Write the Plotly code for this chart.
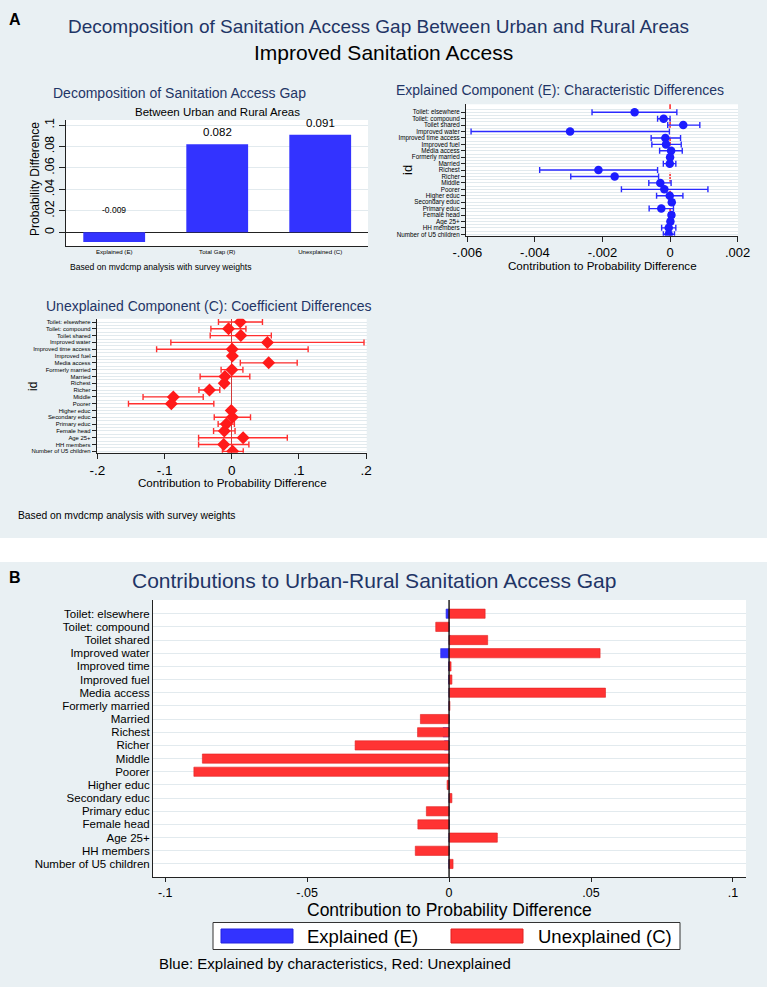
import plotly.graph_objects as go

# ---------------- data ----------------
labels_full = ["Toilet: elsewhere", "Toilet: compound", "Toilet shared", "Improved water",
               "Improved time access", "Improved fuel", "Media access", "Formerly married",
               "Married", "Richest", "Richer", "Middle", "Poorer", "Higher educ",
               "Secondary educ", "Primary educ", "Female head", "Age 25+", "HH members",
               "Number of U5 children"]
labels_b = ["Toilet: elsewhere", "Toilet: compound", "Toilet shared", "Improved water",
            "Improved time", "Improved fuel", "Media access", "Formerly married",
            "Married", "Richest", "Richer", "Middle", "Poorer", "Higher educ",
            "Secondary educ", "Primary educ", "Female head", "Age 25+", "HH members",
            "Number of U5 children"]

bar_cats = ["Explained (E)", "Total Gap (R)", "Unexplained (C)"]
bar_vals = [-0.009, 0.082, 0.091]

exp_est = [-0.00105, -0.00019, 0.00039, -0.00296, -0.00014, -0.00012, 0.00003, 0.0,
           -0.00001, -0.00212, -0.00164, -0.00029, -0.00017, -0.00001, 0.00005,
           -0.00026, 0.00004, 0.00001, -0.00004, -0.00004]
exp_lo = [-0.00231, -0.00037, -0.00007, -0.00589, -0.00056, -0.00054, -0.00031, -0.00007,
          -0.00020, -0.00386, -0.00294, -0.00063, -0.00144, -0.00040, -0.00002,
          -0.00062, -0.00004, -0.00006, -0.00025, -0.00020]
exp_hi = [0.00020, 0.00000, 0.00088, -0.00002, 0.00031, 0.00033, 0.00036, 0.00007,
          0.00017, -0.00037, -0.00034, 0.00003, 0.00112, 0.00038, 0.00012,
          0.00010, 0.00012, 0.00008, 0.00017, 0.00013]

unexp_est = [0.0127, -0.0047, 0.0136, 0.0532, 0.0007, 0.0010, 0.0551, 0.0003, -0.0101,
             -0.0111, -0.0331, -0.0869, -0.0899, -0.0007, 0.0010, -0.0080, -0.0110,
             0.0170, -0.0119, 0.0014]
unexp_lo = [-0.0197, -0.0310, -0.0320, -0.0906, -0.1118, -0.0020, 0.0128, -0.0158, -0.0470,
            -0.0160, -0.0488, -0.1320, -0.1537, -0.0038, -0.0260, -0.0202, -0.0270,
            -0.0493, -0.0493, -0.0138]
unexp_hi = [0.0458, 0.0212, 0.0590, 0.1970, 0.1138, 0.0040, 0.0975, 0.0167, 0.0270,
            -0.0064, -0.0177, -0.0424, -0.0266, 0.0022, 0.0280, 0.0040, 0.0050,
            0.0828, 0.0256, 0.0172]

bar_ticks = [0, 0.02, 0.04, 0.06, 0.08, 0.1]
bar_ticktext = ["0", ".02", ".04", ".06", ".08", ".1"]
exp_ticks = [-0.006, -0.004, -0.002, 0, 0.002]
exp_ticktext = ["-.006", "-.004", "-.002", "0", ".002"]
unexp_ticks = [-0.2, -0.1, 0, 0.1, 0.2]
unexp_ticktext = ["-.2", "-.1", "0", ".1", ".2"]
b_ticks = [-0.1, -0.05, 0, 0.05, 0.1]
b_ticktext = ["-.1", "-.05", "0", ".05", ".1"]

# ---------------- styling ----------------
W, H = 767, 987
BG = "#e9f0f3"
NAVY = "#1f3566"
GRID = "#e2eaee"
BLUE = "#3333ff"
RED = "#ff3333"
AX = "#222222"
FONT = "Liberation Sans, Arial, sans-serif"


def px(x):
    return x / W


def py(y):
    return 1 - y / H


idx = list(range(len(labels_full)))

fig = go.Figure()

# Panel A1: bar chart
fig.add_trace(go.Bar(x=bar_cats, y=bar_vals, marker=dict(color=BLUE, line=dict(width=0)),
                     width=0.6, xaxis="x", yaxis="y", showlegend=False))

# Panel A2: explained forest
fig.add_trace(go.Scatter(
    x=exp_est, y=idx, mode="markers", xaxis="x2", yaxis="y2", showlegend=False,
    marker=dict(symbol="circle", size=8.5, color="#1c1cff"),
    error_x=dict(type="data", symmetric=False,
                 array=[h - e for h, e in zip(exp_hi, exp_est)],
                 arrayminus=[e - l for e, l in zip(exp_est, exp_lo)],
                 color="#2a2aff", thickness=1.4, width=3)))

# Panel A3: unexplained forest
fig.add_trace(go.Scatter(
    x=unexp_est, y=idx, mode="markers", xaxis="x3", yaxis="y3", showlegend=False,
    marker=dict(symbol="diamond", size=10, color="#ff1a1a"),
    error_x=dict(type="data", symmetric=False,
                 array=[h - e for h, e in zip(unexp_hi, unexp_est)],
                 arrayminus=[e - l for e, l in zip(unexp_est, unexp_lo)],
                 color="#ff3030", thickness=1.4, width=3)))

# Panel B: contributions
fig.add_trace(go.Bar(x=exp_est, y=idx, orientation="h", width=0.7, xaxis="x4", yaxis="y4",
                     marker=dict(color=BLUE, line=dict(color="#2222e0", width=0.6)),
                     name="Explained (E)", showlegend=False))
fig.add_trace(go.Bar(x=unexp_est, y=idx, orientation="h", width=0.7, xaxis="x4", yaxis="y4",
                     marker=dict(color=RED, line=dict(color="#e02020", width=0.6)),
                     name="Unexplained (C)", showlegend=False))


def xax(domain, anchor, rng, tickvals, ticktext, size, ticklen=5):
    return dict(domain=domain, anchor=anchor, range=rng, tickvals=tickvals,
                ticktext=ticktext, ticks="outside", ticklen=ticklen, tickcolor=AX,
                tickfont=dict(size=size, color="black"), showgrid=False,
                showline=True, linecolor=AX, linewidth=1, zeroline=False,
                automargin=False)


def yax_rows(domain, anchor, rng, labels, size, ticklen, minor):
    d = dict(domain=domain, anchor=anchor, range=rng, tickvals=idx, ticktext=labels,
             ticks=("outside" if ticklen else ""), ticklen=ticklen, tickcolor=AX,
             tickfont=dict(size=size, color="black"), showgrid=True, gridcolor=GRID,
             showline=True, linecolor=AX, linewidth=1, zeroline=False, automargin=False)
    if minor:
        d["minor"] = dict(tickvals=[i + 0.5 for i in range(-1, 19)], showgrid=True,
                          gridcolor=GRID, ticks="")
    return d


xaxis3 = xax([px(96.7), px(366.7)], "y3", [-0.201, 0.201], unexp_ticks, unexp_ticktext, 13.5)
xaxis3.update(zeroline=True, zerolinecolor="#d03a3a", zerolinewidth=1.4)

fig.update_layout(
    template="none",
    width=W, height=H, autosize=False,
    margin=dict(l=0, r=0, t=0, b=0, pad=0, autoexpand=False),
    paper_bgcolor=BG, plot_bgcolor="white",
    font=dict(family=FONT, color="black"),
    barmode="overlay", showlegend=False,
    xaxis=dict(domain=[px(66), px(368)], anchor="y", type="category",
               range=[-0.468, 2.464], ticks="", tickfont=dict(size=6.1, color="black"),
               showline=True, linecolor=AX, showgrid=False, zeroline=False,
               automargin=False),
    yaxis=dict(domain=[py(246), py(120)], anchor="x", range=[-0.0128, 0.1047],
               tickvals=bar_ticks, ticktext=bar_ticktext, tickangle=-90,
               ticks="outside", ticklen=6, tickfont=dict(size=12.5, color="black"),
               showgrid=True, gridcolor=GRID, zeroline=True, zerolinecolor=AX,
               zerolinewidth=1, showline=True, linecolor=AX, tickcolor=AX,
               automargin=False),
    xaxis2=xax([px(466), px(738)], "y2", [-0.00604, 0.00201], exp_ticks, exp_ticktext, 13),
    yaxis2=yax_rows([py(235.7), py(104.3)], "x2", [19.22, -1.24], labels_full, 6.3, 4, True),
    xaxis3=xaxis3,
    yaxis3=yax_rows([py(452.7), py(318.8)], "x3", [19.2, -0.47], labels_full, 5.9, 4, True),
    xaxis4=xax([px(153), px(746)], "y4", [-0.1043, 0.1046], b_ticks, b_ticktext, 12.5, 4),
    yaxis4=yax_rows([py(877), py(600)], "x4", [19.99, -1.04], labels_b, 11.5, 0, False),
)

shapes = []
# white separator band between panels A and B
shapes.append(dict(type="rect", xref="paper", yref="paper", x0=0, x1=1,
                   y0=py(562), y1=py(538), fillcolor="white", line=dict(width=0),
                   layer="below"))
# dashed red reference line at zero in the explained panel
shapes.append(dict(type="line", xref="x2", yref="y2 domain", x0=0, x1=0, y0=0, y1=1,
                   line=dict(color="#ff3030", width=1.6, dash="dash"), layer="below"))
# black zero line in panel B
shapes.append(dict(type="line", xref="x4", yref="y4 domain", x0=0, x1=0, y0=0, y1=1,
                   line=dict(color="#111", width=1.4)))
# legend box for panel B
shapes.append(dict(type="rect", xref="paper", yref="paper", x0=px(213), x1=px(680),
                   y0=py(949.5), y1=py(922.5), fillcolor="white",
                   line=dict(color="#333", width=1)))
shapes.append(dict(type="rect", xref="paper", yref="paper", x0=px(221), x1=px(293),
                   y0=py(943), y1=py(929), fillcolor=BLUE, line=dict(color="#2222e0", width=1)))
shapes.append(dict(type="rect", xref="paper", yref="paper", x0=px(451), x1=px(523),
                   y0=py(943), y1=py(929), fillcolor=RED, line=dict(color="#e02020", width=1)))
fig.update_layout(shapes=shapes)

anns = []


def ann(text, x, y, size, color="black", xanchor="center", angle=0):
    anns.append(dict(text=text, x=px(x), y=py(y), xref="paper", yref="paper",
                     showarrow=False, xanchor=xanchor, yanchor="middle",
                     font=dict(size=size, color=color, family=FONT), textangle=angle))


ann("<b>A</b>", 15, 19, 16)
ann("Decomposition of Sanitation Access Gap Between Urban and Rural Areas", 378, 27, 19, NAVY)
ann("Improved Sanitation Access", 383, 52, 21)
ann("Decomposition of Sanitation Access Gap", 179, 93, 14, NAVY)
ann("Between Urban and Rural Areas", 217, 112, 11.5)
ann("Probability Difference", 35, 179, 12, angle=-90)
ann("Based on mvdcmp analysis with survey weights", 68, 267, 8.6, xanchor="left")
ann("Explained Component (E): Characteristic Differences", 560, 90, 14, NAVY)
ann("id", 408, 170, 13, angle=-90)
ann("Contribution to Probability Difference", 602, 265.5, 11.6)
ann("Unexplained Component (C): Coefficient Differences", 209, 306, 14, NAVY)
ann("id", 33, 387, 12, angle=-90)
ann("Contribution to Probability Difference", 232, 483, 11.6)
ann("Based on mvdcmp analysis with survey weights", 16, 515, 10.3, xanchor="left")
ann("<b>B</b>", 15, 577, 16)
ann("Contributions to Urban-Rural Sanitation Access Gap", 374, 580, 21, NAVY)
ann("Contribution to Probability Difference", 449.5, 909.5, 17.5)
ann("Explained (E)", 305, 936, 18.5, xanchor="left")
ann("Unexplained (C)", 536, 936, 18.5, xanchor="left")
ann("Blue: Explained by characteristics, Red: Unexplained", 157, 963, 15, xanchor="left")

# value labels on the top-left bars (data coordinates)
for c, v in zip(bar_cats, bar_vals):
    anns.append(dict(text=f"{v:.3f}", x=c, y=max(v, 0), xref="x", yref="y",
                     showarrow=False, yanchor="bottom",
                     yshift=(4 if v > 0 else 15),
                     font=dict(size=(11.5 if v > 0 else 8.5), color="black", family=FONT)))

fig.update_layout(annotations=anns)

fig.write_html("out.html")
